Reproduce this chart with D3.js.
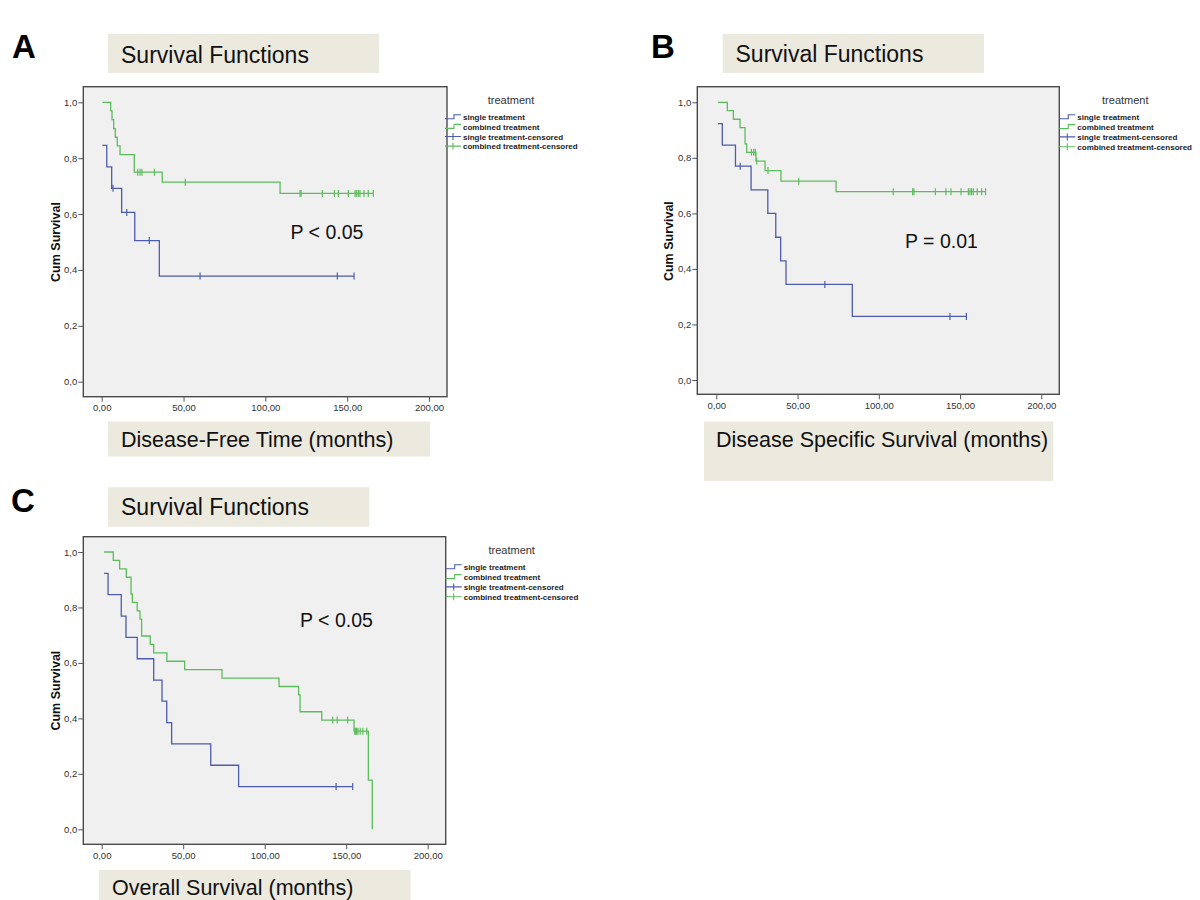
<!DOCTYPE html>
<html><head><meta charset="utf-8">
<script src="https://cdn.jsdelivr.net/npm/d3@7"></script>
<style>
body{margin:0;background:#fff;}
svg{display:block;font-family:"Liberation Sans",Arial,sans-serif;}
</style>
</head><body>
<svg id="chart" width="1200" height="900"></svg>
<script>
// ---------- DATA ----------
const xTicks = [0, 50, 100, 150, 200];
const xTickLabels = ["0,00", "50,00", "100,00", "150,00", "200,00"];
const yTicks = [0, 0.2, 0.4, 0.6, 0.8, 1.0];
const yTickLabels = ["0,0", "0,2", "0,4", "0,6", "0,8", "1,0"];
const legendTitle = "treatment";
const legendLabels = ["single treatment", "combined treatment", "single treatment-censored", "combined treatment-censored"];

// Panel A: Disease-Free Time
const dfsSingleTimes = [0.4, 3.1, 6.1, 12.2, 20.2, 35.2];
const dfsSingleSurv  = [0.846, 0.769, 0.692, 0.606, 0.505, 0.378];
const dfsSingleCens  = [6.9, 15.3, 29.1, 60.1, 144.0, 154.2];
const dfsCombTimes = [0.4, 5.5, 6.3, 7.3, 8.3, 9.5, 11.2, 19.9, 37.0, 109.0];
const dfsCombSurv  = [1.0, 0.969, 0.938, 0.906, 0.875, 0.844, 0.8125, 0.75, 0.714, 0.674];
const dfsCombCens  = [22.0, 23.4, 24.6, 32.2, 51.1, 121.2, 121.8, 134.8, 142.2, 144.6, 150.7, 154.8, 155.8, 156.8, 157.8, 160.3, 162.9, 166.0];

// Panel B: Disease Specific Survival
const dssSingleTimes = [1.0, 3.7, 11.8, 21.4, 31.7, 36.6, 39.6, 42.9, 83.7];
const dssSingleSurv  = [0.923, 0.846, 0.770, 0.685, 0.600, 0.514, 0.429, 0.344, 0.229];
const dssSingleCens  = [14.7, 66.8, 143.8, 153.9];
const dssCombTimes = [1.0, 6.8, 10.5, 14.6, 17.7, 18.7, 24.4, 30.0, 39.8, 73.7];
const dssCombSurv  = [1.0, 0.970, 0.939, 0.909, 0.850, 0.820, 0.788, 0.754, 0.716, 0.678];
const dssCombCens  = [21.6, 23.0, 24.0, 24.9, 31.8, 50.7, 108.9, 120.8, 121.6, 134.8, 141.3, 144.4, 150.6, 155.1, 156.1, 157.1, 158.2, 160.6, 163.3, 165.7];

// Panel C: Overall Survival
const osSingleTimes = [1.4, 3.9, 12.0, 14.9, 21.8, 31.9, 37.0, 39.9, 42.9, 66.9, 84.0];
const osSingleSurv  = [0.923, 0.846, 0.769, 0.692, 0.615, 0.538, 0.462, 0.385, 0.308, 0.231, 0.154];
const osSingleCens  = [143.8, 154.0];
const osCombTimes = [1.4, 7.1, 11.0, 15.1, 18.0, 18.8, 21.8, 23.5, 24.5, 29.8, 31.9, 40.0, 50.9, 73.8, 108.8, 120.8, 121.7, 135.0, 154.8, 163.6, 166.0];
const osCombSurv  = [1.0, 0.970, 0.939, 0.909, 0.848, 0.818, 0.788, 0.758, 0.697, 0.667, 0.636, 0.606, 0.576, 0.545, 0.515, 0.485, 0.424, 0.394, 0.354, 0.177, 0.0];
const osCombCens  = [141.7, 144.5, 150.9, 155.3, 155.8, 156.4, 157.2, 158.6, 160.2, 162.6];

// ---------- LAYOUT ----------
const colors = {single: "#4d5cab", combined: "#5cbd5c"};
const panels = [
  {letter: "A", letterX: 12, letterY: 58,
   title: "Survival Functions", titleBox: [108, 34, 271, 39], titleX: 121, titleY: 62.5,
   xLabel: "Disease-Free Time (months)", xBox: [108, 421.5, 322, 35], xLabelX: 121, xLabelY: 446.5,
   p: "P < 0.05", pX: 290.5, pY: 239,
   frame: [83.3, 86.7, 447, 396.7], xr: [101.7, 429], yr: [381.7, 102.3], yLabX: 59.5,
   leg: {x: 445, tY: 104, y0: 117.3, dy: 9.6},
   single: [dfsSingleTimes, dfsSingleSurv, dfsSingleCens],
   comb: [dfsCombTimes, dfsCombSurv, dfsCombCens]},
  {letter: "B", letterX: 651, letterY: 58,
   title: "Survival Functions", titleBox: [722.7, 34, 261.3, 39], titleX: 735.5, titleY: 62,
   xLabel: "Disease Specific Survival (months)", xBox: [704, 421.5, 349.3, 59.5], xLabelX: 716, xLabelY: 446.5,
   p: "P = 0.01", pX: 905, pY: 248.3,
   frame: [697.3, 86.7, 1059.3, 394.3], xr: [716.3, 1041.3], yr: [380, 102.3], yLabX: 673,
   leg: {x: 1059.3, tY: 104, y0: 117.3, dy: 9.8},
   single: [dssSingleTimes, dssSingleSurv, dssSingleCens],
   comb: [dssCombTimes, dssCombSurv, dssCombCens]},
  {letter: "C", letterX: 11, letterY: 511.5,
   title: "Survival Functions", titleBox: [108, 487.3, 261.3, 39.4], titleX: 121, titleY: 515,
   xLabel: "Overall Survival (months)", xBox: [99, 870, 311.7, 30], xLabelX: 112, xLabelY: 895,
   p: "P < 0.05", pX: 300, pY: 626.7,
   frame: [83.3, 536.7, 445.7, 844.3], xr: [101.7, 427.7], yr: [829.3, 552], yLabX: 59.5,
   leg: {x: 445.7, tY: 554, y0: 567.3, dy: 9.8},
   single: [osSingleTimes, osSingleSurv, osSingleCens],
   comb: [osCombTimes, osCombSurv, osCombCens]}
];

const svg = d3.select("#chart");

function survAt(times, surv, t) {
  let v = surv[0];
  for (let i = 0; i < times.length; i++) if (times[i] <= t) v = surv[i];
  return v;
}

panels.forEach(P => {
  const g = svg.append("g");
  // letter
  g.append("text").attr("x", P.letterX).attr("y", P.letterY)
    .attr("font-size", 33).attr("font-weight", "bold").attr("fill", "#000").text(P.letter);
  // title box
  g.append("rect").attr("x", P.titleBox[0]).attr("y", P.titleBox[1])
    .attr("width", P.titleBox[2]).attr("height", P.titleBox[3]).attr("fill", "#ece9df");
  g.append("text").attr("x", P.titleX).attr("y", P.titleY)
    .attr("font-size", 23).attr("fill", "#111").text(P.title);
  // x-label box
  g.append("rect").attr("x", P.xBox[0]).attr("y", P.xBox[1])
    .attr("width", P.xBox[2]).attr("height", P.xBox[3]).attr("fill", "#ece9df");
  g.append("text").attr("x", P.xLabelX).attr("y", P.xLabelY)
    .attr("font-size", 21.5).attr("fill", "#111").text(P.xLabel);

  const [fx0, fy0, fx1, fy1] = P.frame;
  g.append("rect").attr("x", fx0).attr("y", fy0).attr("width", fx1 - fx0).attr("height", fy1 - fy0)
    .attr("fill", "#f0f0f0").attr("stroke", "#4a4a4a").attr("stroke-width", 1.4);

  const x = d3.scaleLinear().domain([0, 200]).range(P.xr);
  const y = d3.scaleLinear().domain([0, 1]).range(P.yr);

  // y axis
  const yAxis = d3.axisLeft(y).tickValues(yTicks).tickSize(5)
    .tickFormat((d, i) => yTickLabels[i]);
  const ya = g.append("g").attr("transform", `translate(${fx0},0)`).call(yAxis);
  ya.select(".domain").remove();
  ya.selectAll("line").attr("stroke", "#555");
  ya.selectAll("text").attr("font-size", 9.5).attr("fill", "#333")
    .attr("font-family", "Liberation Sans, Arial, sans-serif").attr("x", -6);

  // x axis
  const xAxis = d3.axisBottom(x).tickValues(xTicks).tickSize(5)
    .tickFormat((d, i) => xTickLabels[i]);
  const xa = g.append("g").attr("transform", `translate(0,${fy1})`).call(xAxis);
  xa.select(".domain").remove();
  xa.selectAll("line").attr("stroke", "#555");
  xa.selectAll("text").attr("font-size", 9.5).attr("fill", "#333")
    .attr("font-family", "Liberation Sans, Arial, sans-serif").attr("y", 8);

  // y axis label
  g.append("text").attr("transform", `translate(${P.yLabX},${(P.yr[0] + P.yr[1]) / 2}) rotate(-90)`)
    .attr("text-anchor", "middle").attr("font-size", 12.5).attr("font-weight", "bold")
    .attr("fill", "#111").text("Cum Survival");

  const line = d3.line().x(d => x(d[0])).y(d => y(d[1])).curve(d3.curveStepAfter);

  function drawGroup(arr, color) {
    const [times, surv, cens] = arr;
    const pts = times.map((t, i) => [t, surv[i]]);
    const endT = d3.max(cens);
    if (endT > times[times.length - 1]) pts.push([endT, surv[surv.length - 1]]);
    g.append("path").datum(pts).attr("d", line).attr("fill", "none")
      .attr("stroke", color).attr("stroke-width", 1.3);
    g.append("g").selectAll("line").data(cens).join("line")
      .attr("x1", d => x(d)).attr("x2", d => x(d))
      .attr("y1", d => y(survAt(times, surv, d)) - 3.5)
      .attr("y2", d => y(survAt(times, surv, d)) + 3.5)
      .attr("stroke", color).attr("stroke-width", 1.2);
  }
  drawGroup(P.single, colors.single);
  drawGroup(P.comb, colors.combined);

  // P text
  g.append("text").attr("x", P.pX).attr("y", P.pY).attr("font-size", 19.5)
    .attr("fill", "#111").text(P.p);

  // legend
  const L = P.leg;
  g.append("text").attr("x", L.x + 66).attr("y", L.tY).attr("font-size", 11)
    .attr("text-anchor", "middle").attr("fill", "#333").text(legendTitle);
  const legColors = [colors.single, colors.combined, colors.single, colors.combined];
  legendLabels.forEach((lab, i) => {
    const cy = L.y0 + i * L.dy;
    const c = legColors[i];
    if (i < 2) {
      g.append("path").attr("d", `M${L.x},${cy + 1.5} H${L.x + 9} V${cy - 2.5} H${L.x + 16}`)
        .attr("fill", "none").attr("stroke", c).attr("stroke-width", 1.1);
    } else {
      g.append("path").attr("d", `M${L.x},${cy} H${L.x + 16} M${L.x + 8},${cy - 3.5} V${cy + 3.5}`)
        .attr("fill", "none").attr("stroke", c).attr("stroke-width", 1.1);
    }
    g.append("text").attr("x", L.x + 18).attr("y", cy + 3).attr("font-size", 8)
      .attr("font-weight", "bold").attr("fill", "#222").text(lab);
  });
});
</script>
</body></html>
